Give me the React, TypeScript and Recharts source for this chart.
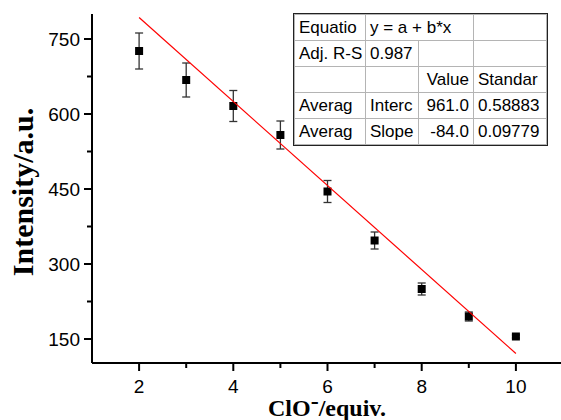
import React from 'react';
import { ComposedChart, Scatter, XAxis, YAxis, ErrorBar } from 'recharts';

// intensity vs. ClO- equivalents, mean ± error
const equiv = [2, 3, 4, 5, 6, 7, 8, 9, 10];
const intensity = [726, 668, 616, 558, 445, 347, 250, 195, 155];
const intensityErr = [36, 34, 31, 28, 22, 17, 12, 9, 3];

// linear fit y = a + b*x
const fitIntercept = 961.0;
const fitSlope = -84.0;
const fitAdjR2 = 0.987;
const fitStdErr = [0.58883, 0.09779];
const fitRange = [2, 10];

const xMajor = [2, 4, 6, 8, 10];
const xMinor = [3, 5, 7, 9];
const yMajor = [150, 300, 450, 600, 750];
const yMinor = [225, 375, 525, 675];

const points = equiv.map((x, i) => ({ x, y: intensity[i], err: intensityErr[i] }));
const fitLine = fitRange.map((x) => ({ x, y: fitIntercept + fitSlope * x }));

const sans = '"Liberation Sans", Arial, sans-serif';
const serif = '"Liberation Serif", "Times New Roman", serif';

const XTick = ({ x, y, payload }: any) => {
  const major = xMajor.includes(payload.value);
  return (
    <g>
      <line x1={x} x2={x} y1={y} y2={y + (major ? 8 : 5)} stroke="#000" strokeWidth={2} />
      {major && (
        <text x={x} y={y + 30} textAnchor="middle" fontSize={19} fontFamily={sans} fill="#000">
          {payload.value}
        </text>
      )}
    </g>
  );
};

const YTick = ({ x, y, payload }: any) => {
  const major = yMajor.includes(payload.value);
  return (
    <g>
      <line x1={x} x2={x - (major ? 8 : 5)} y1={y} y2={y} stroke="#000" strokeWidth={2} />
      {major && (
        <text x={x - 12} y={y} dy="0.35em" textAnchor="end" fontSize={19} fontFamily={sans} fill="#000">
          {payload.value}
        </text>
      )}
    </g>
  );
};

const Square = ({ cx, cy }: any) => <rect x={cx - 4} y={cy - 4} width={8} height={8} fill="#000" />;

const cell: React.CSSProperties = {
  height: 25,
  padding: '0 4px',
  border: '1px solid #b4b4b4',
  whiteSpace: 'nowrap',
  overflow: 'hidden',
};
const num: React.CSSProperties = { ...cell, textAlign: 'right' };

const FitTable = () => (
  <table
    style={{
      position: 'absolute',
      left: 294,
      top: 14,
      width: 252,
      borderCollapse: 'collapse',
      tableLayout: 'fixed',
      background: '#fff',
      fontFamily: sans,
      fontSize: 17,
      color: '#000',
      outline: '1.5px solid #222',
    }}
  >
    <colgroup>
      <col style={{ width: 71 }} />
      <col style={{ width: 53 }} />
      <col style={{ width: 55 }} />
      <col style={{ width: 73 }} />
    </colgroup>
    <tbody>
      <tr>
        <td style={cell}>Equatio</td>
        <td style={cell} colSpan={2}>y = a + b*x</td>
        <td style={cell}></td>
      </tr>
      <tr>
        <td style={cell}>Adj. R-S</td>
        <td style={cell}>{fitAdjR2.toFixed(3)}</td>
        <td style={cell}></td>
        <td style={cell}></td>
      </tr>
      <tr>
        <td style={cell}></td>
        <td style={cell}></td>
        <td style={num}>Value</td>
        <td style={cell}>Standar</td>
      </tr>
      <tr>
        <td style={cell}>Averag</td>
        <td style={cell}>Interc</td>
        <td style={num}>{fitIntercept.toFixed(1)}</td>
        <td style={cell}>{fitStdErr[0]}</td>
      </tr>
      <tr>
        <td style={cell}>Averag</td>
        <td style={cell}>Slope</td>
        <td style={num}>{fitSlope.toFixed(1)}</td>
        <td style={cell}>{fitStdErr[1]}</td>
      </tr>
    </tbody>
  </table>
);

export default function App() {
  return (
    <div style={{ position: 'absolute', left: 0, top: 0, width: 561, height: 420, overflow: 'hidden', background: '#fff' }}>
      <ComposedChart width={563} height={420} margin={{ top: 14, right: 0, bottom: 0, left: 0 }}>
        <XAxis
          type="number"
          dataKey="x"
          domain={[1, 11]}
          ticks={[...xMajor, ...xMinor]}
          interval={0}
          height={57}
          tickSize={0}
          tickMargin={0}
          tickLine={false}
          axisLine={{ stroke: '#000', strokeWidth: 2 }}
          tick={<XTick />}
          allowDataOverflow
          label={() => (
            <text x={327} y={416} textAnchor="middle" fontFamily={serif} fontWeight="bold" fontSize={24} fill="#000">
              ClO<tspan dy={-7}>-</tspan>
              <tspan dy={7}>/equiv.</tspan>
            </text>
          )}
        />
        <YAxis
          type="number"
          dataKey="y"
          domain={[102, 800]}
          ticks={[...yMajor, ...yMinor]}
          interval={0}
          width={92}
          tickSize={0}
          tickMargin={0}
          tickLine={false}
          axisLine={{ stroke: '#000', strokeWidth: 2 }}
          tick={<YTick />}
          allowDataOverflow
          label={() => (
            <text
              x={0}
              y={0}
              transform="translate(33 192) rotate(-90)"
              textAnchor="middle"
              fontFamily={serif}
              fontWeight="bold"
              fontSize={30}
              fill="#000"
            >
              Intensity/a.u.
            </text>
          )}
        />
        <Scatter data={points} dataKey="y" shape={<Square />} isAnimationActive={false}>
          <ErrorBar dataKey="err" direction="y" width={4} stroke="#333" strokeWidth={1.3} isAnimationActive={false} />
        </Scatter>
        <Scatter
          data={fitLine}
          dataKey="y"
          line={{ stroke: '#ff0000', strokeWidth: 1.2 }}
          shape={() => <g />}
          isAnimationActive={false}
        />
      </ComposedChart>
      <FitTable />
    </div>
  );
}
